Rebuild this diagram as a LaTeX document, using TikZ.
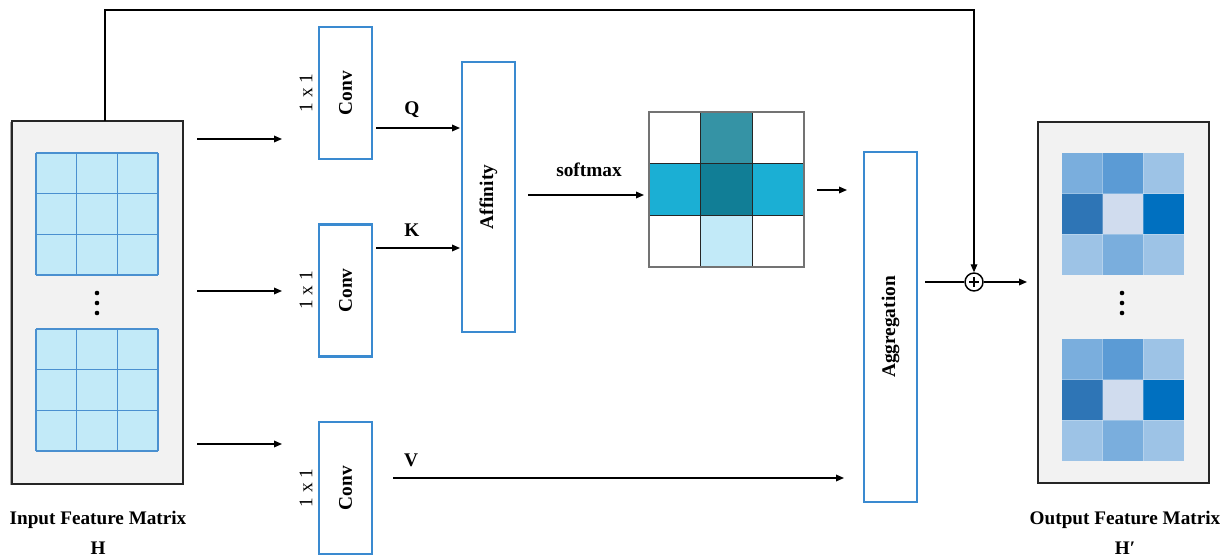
\documentclass[tikz,border=0pt]{standalone}
\usepackage{fontspec}
\setmainfont{Liberation Serif}
\usetikzlibrary{arrows.meta,calc}
\definecolor{boxblue}{HTML}{3A8AD0}
\definecolor{cellcyan}{HTML}{C2EAF8}
\definecolor{gridblue}{HTML}{4A90D0}
\definecolor{panelgray}{HTML}{F2F2F2}
\definecolor{crossA}{HTML}{3593A5}
\definecolor{crossB}{HTML}{1BAFD4}
\definecolor{crossC}{HTML}{117E96}
\definecolor{oA}{HTML}{7AAEDD}
\definecolor{oB}{HTML}{5B9BD5}
\definecolor{oC}{HTML}{9DC3E6}
\definecolor{oD}{HTML}{2E75B6}
\definecolor{oE}{HTML}{D0DCEE}
\definecolor{oF}{HTML}{0070C0}
\begin{document}
\begin{tikzpicture}[x=0.75pt,y=-0.75pt,
  opbox/.style={draw=boxblue,line width=1.7pt,fill=white,inner sep=0pt},
  panel/.style={draw=black!85,line width=0.9pt,fill=panelgray,inner sep=0pt},
  bl/.style={font=\fontsize{14.5}{16}\selectfont\bfseries,inner sep=0pt},
  rl/.style={font=\fontsize{14.5}{16}\selectfont,inner sep=0pt},
  arr/.style={-{Triangle[length=6pt,width=5pt]},line width=0.9pt},
  ln/.style={line width=0.9pt}]
\useasboundingbox (0,0) rectangle (1230,559);

% panels
\draw[gray!70,line width=1.6pt] (11,122) -- (11,485);
\node[panel,minimum width=171*0.75pt,minimum height=363*0.75pt] (input) at (97.5,302.5) {};
\node[panel,minimum width=171*0.75pt,minimum height=361*0.75pt] (output) at (1123.5,302.5) {};

% input grids
\foreach \y in {153,329}{
  \fill[cellcyan] (36,\y) rectangle (158,{\y+122});
  \foreach \k in {0,1,2,3}{
    \draw[gridblue,line width=0.9pt] ({36+\k*40.67},\y) -- ({36+\k*40.67},{\y+122});
    \draw[gridblue,line width=0.9pt] (36,{\y+\k*40.67}) -- (158,{\y+\k*40.67});
  }
}
\foreach \y in {293,303,313}{ \fill (97,\y) circle (2.3); }

% output grids
\foreach \y in {153,339}{
  \foreach \c [count=\n from 0] in {oA,oB,oC,oD,oE,oF,oC,oA,oC}{
    \pgfmathtruncatemacro{\r}{int(\n/3)}
    \pgfmathtruncatemacro{\q}{mod(\n,3)}
    \fill[\c] ({1062+\q*40.67},{\y+\r*40.67}) rectangle ({1062+(\q+1)*40.67},{\y+(\r+1)*40.67});
  }
  \foreach \k in {1,2}{
    \draw[white,opacity=0.25,line width=0.6pt] ({1062+\k*40.67},\y) -- ({1062+\k*40.67},{\y+122});
    \draw[white,opacity=0.25,line width=0.6pt] (1062,{\y+\k*40.67}) -- (1184,{\y+\k*40.67});
  }
}
\foreach \y in {293,303,313}{ \fill (1122,\y) circle (2.3); }

% labels under panels
\node[font=\fontsize{14.4}{16}\selectfont\bfseries] (inlab) at (98,520) {Input Feature Matrix};
\node[font=\fontsize{14.4}{16}\selectfont\bfseries] (inH) at (98,548) {H};
\node[font=\fontsize{14.4}{16}\selectfont\bfseries] (outlab) at (1125,520) {Output Feature Matrix};
\node[font=\fontsize{14.4}{16}\selectfont\bfseries] (outH) at (1125,548) {H′};

% conv boxes
\foreach \nm/\cy in {c1/93,c2/290.5,c3/488}{
  \node[opbox,minimum width=53*0.75pt,minimum height=132*0.75pt] (\nm) at (345.5,\cy) {};
  \node[bl,rotate=90] (\nm t) at (\nm.center) {Conv};
  \node[rl,rotate=90] (\nm s) at (306,\cy) {1 x 1};
}
\node[opbox,minimum width=53*0.75pt,minimum height=270*0.75pt] (aff) at (488.5,197) {};
\node[bl,rotate=90] (afft) at (aff.center) {Affinity};
\node[opbox,minimum width=53*0.75pt,minimum height=350*0.75pt] (agg) at (890.5,327) {};
\node[bl,rotate=90] (aggt) at (agg.center) {Aggregation};

% cross grid
\fill[crossA] (700.67,112) rectangle (752.33,163.67);
\fill[crossB] (649,163.67) rectangle (804,215.33);
\fill[crossC] (700.67,163.67) rectangle (752.33,215.33);
\fill[cellcyan] (700.67,215.33) rectangle (752.33,267);
\foreach \k in {1,2}{
  \draw[black!85,line width=0.8pt] ({649+\k*51.67},112) -- ({649+\k*51.67},267);
  \draw[black!85,line width=0.8pt] (649,{112+\k*51.67}) -- (804,{112+\k*51.67});
}
\node[draw=black!55,line width=0.9pt,minimum width=155*0.75pt,minimum height=155*0.75pt,inner sep=0pt] (cross) at (726.5,189.5) {};

% sum node
\node[circle,draw=black,line width=1.1pt,minimum size=18*0.75pt,inner sep=0pt] (sum) at (974,282) {};
\draw[line width=0.9pt] ($(sum.center)+(-5,0)$) -- ($(sum.center)+(5,0)$);
\draw[line width=0.9pt] ($(sum.center)+(0,-5)$) -- ($(sum.center)+(0,5)$);

% coordinates
\coordinate (a1s) at (197,139); \coordinate (a1e) at (282,139);
\coordinate (a2s) at (197,291); \coordinate (a2e) at (282,291);
\coordinate (a3s) at (197,444); \coordinate (a3e) at (282,444);
\coordinate (qs) at (376,128); \coordinate (qe) at (460,128);
\coordinate (ks) at (376,248); \coordinate (ke) at (460,248);
\coordinate (vs) at (393,478); \coordinate (ve) at (844,478);
\coordinate (ss) at (528,195); \coordinate (se) at (644,195);
\coordinate (gs) at (817,190); \coordinate (ge) at (847,190);
\coordinate (ao) at (925,282); \coordinate (oe) at (1027,282);
\coordinate (skip) at (105,121); \coordinate (top) at (974,10);

\draw[arr] (a1s) -- (a1e);
\draw[arr] (a2s) -- (a2e);
\draw[arr] (a3s) -- (a3e);
\draw[arr] (qs) -- (qe);
\draw[arr] (ks) -- (ke);
\draw[arr] (vs) -- (ve);
\draw[arr] (ss) -- (se);
\draw[arr] (gs) -- (ge);
\draw[ln] (ao) -- (sum.west);
\draw[arr] (sum.east) -- (oe);
\draw[arr] (skip) |- (top) -- (sum.north);

\node[bl] (ql) at (412,110) {Q};
\node[bl] (kl) at (412,230) {K};
\node[bl] (vl) at (411,460) {V};
\node[bl] (sml) at (589,170) {softmax};
\end{tikzpicture}
\end{document}
